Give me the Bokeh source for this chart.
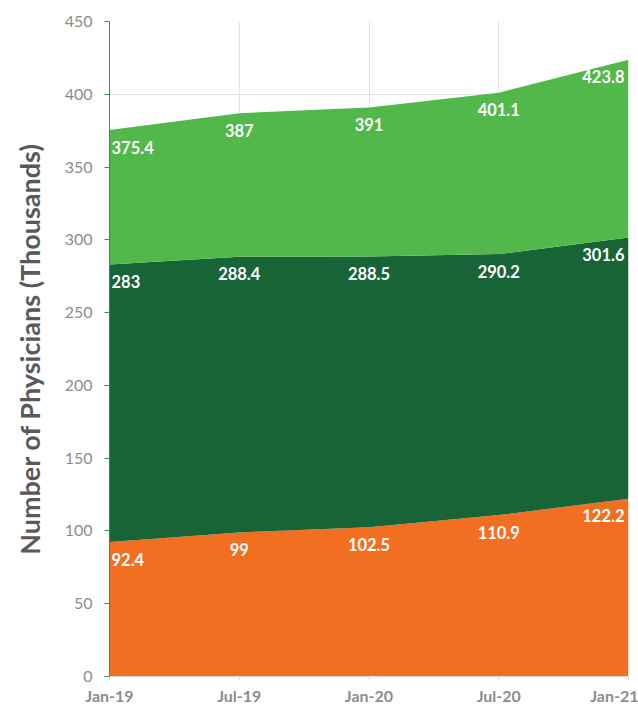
from bokeh.plotting import figure
from bokeh.models import Range1d, FixedTicker, ColumnDataSource
from bokeh.core.properties import value
from bokeh.embed import file_html
from bokeh.resources import INLINE

periods = ["Jan-19", "Jul-19", "Jan-20", "Jul-20", "Jan-21"]
# cumulative (stacked) totals as labelled in the chart
orange_top = [92.4, 99, 102.5, 110.9, 122.2]
dark_top = [283, 288.4, 288.5, 290.2, 301.6]
light_top = [375.4, 387, 391, 401.1, 423.8]
y_ticks = [0, 50, 100, 150, 200, 250, 300, 350, 400, 450]

xs = list(range(len(periods)))
zeros = [0] * len(xs)

FONT = "Lato"
ORANGE = "#F26E21"
DARK = "#176437"
LIGHT = "#52B84B"

p = figure(width=638, height=708, output_backend="svg", toolbar_location=None,
           x_range=Range1d(0, len(xs) - 1), y_range=Range1d(0, 450),
           min_border_left=109, min_border_right=10, min_border_top=21, min_border_bottom=32)
p.outline_line_color = None
p.background_fill_color = "white"

src = ColumnDataSource(dict(x=xs, z=zeros, o=orange_top, d=dark_top, l=light_top))
p.varea(x="x", y1="z", y2="o", source=src, fill_color=ORANGE)
p.varea(x="x", y1="o", y2="d", source=src, fill_color=DARK)
p.varea(x="x", y1="d", y2="l", source=src, fill_color=LIGHT)

aligns = ["left"] + ["center"] * (len(xs) - 2) + ["right"]
xoffs = [2] + [0] * (len(xs) - 2) + [-4]
for vals in (orange_top, dark_top, light_top):
    ls = ColumnDataSource(dict(x=xs, y=vals, t=[f"{v:g}" for v in vals], a=aligns, xo=xoffs))
    p.text(x="x", y="y", text="t", source=ls, text_align="a", x_offset="xo", y_offset=17,
           text_baseline="middle", text_color="white", text_font=value(FONT),
           text_font_style="bold", text_font_size="16.5px")

p.xaxis.ticker = FixedTicker(ticks=xs)
p.xaxis.major_label_overrides = {i: s for i, s in enumerate(periods)}
p.xaxis.major_label_text_font = FONT
p.xaxis.major_label_text_font_style = "bold"
p.xaxis.major_label_text_font_size = "16px"
p.xaxis.major_label_text_color = "#8C8C8C"
p.xaxis.axis_line_color = "#D9D9D9"
p.xaxis.major_tick_line_color = "#D9D9D9"
p.xaxis.major_tick_in = 0
p.xaxis.major_tick_out = 4
p.xaxis.minor_tick_line_color = None
p.xaxis.major_label_standoff = 5

p.yaxis.ticker = FixedTicker(ticks=y_ticks)
p.yaxis.major_label_text_font = FONT
p.yaxis.major_label_text_font_size = "16px"
p.yaxis.major_label_text_color = "#8C8C8C"
p.yaxis.axis_line_color = "#2E9B3A"
p.yaxis.major_tick_line_color = "#2E9B3A"
p.yaxis.major_tick_in = 0
p.yaxis.major_tick_out = 5
p.yaxis.minor_tick_line_color = None
p.yaxis.major_label_standoff = 12
p.yaxis.axis_label = "Number of Physicians (Thousands)"
p.yaxis.axis_label_text_font = FONT
p.yaxis.axis_label_text_font_style = "bold"
p.yaxis.axis_label_text_font_size = "27px"
p.yaxis.axis_label_text_color = "#595959"
p.yaxis.axis_label_standoff = 16

p.xgrid.grid_line_color = "#E3E3E3"
p.ygrid.grid_line_color = "#E3E3E3"
p.xgrid.level = "underlay"
p.ygrid.level = "underlay"

open("out.html", "w").write(file_html(p, INLINE))
